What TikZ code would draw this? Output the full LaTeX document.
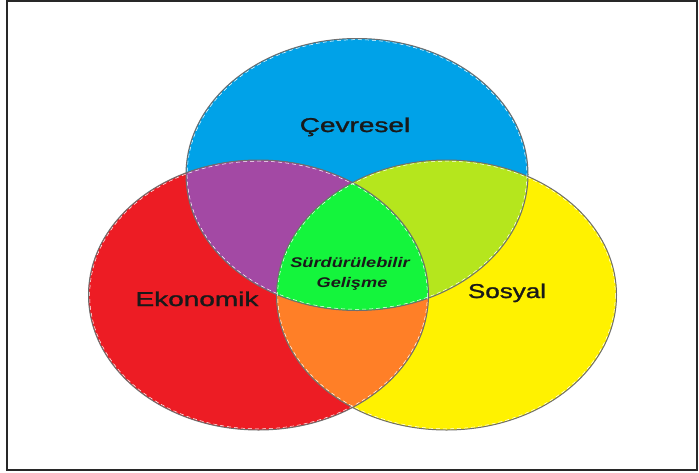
\documentclass[tikz,border=0pt]{standalone}
\usepackage{fontspec}
\setmainfont{Liberation Sans}
\newfontfamily\labelfont[FakeBold=1.2]{Liberation Sans}
\usepackage{graphicx}
\definecolor{cBlue}{RGB}{0,162,232}
\definecolor{cRed}{RGB}{237,28,36}
\definecolor{cYellow}{RGB}{255,242,0}
\definecolor{cPurple}{RGB}{163,73,164}
\definecolor{cLime}{RGB}{181,230,29}
\definecolor{cOrange}{RGB}{255,127,39}
\definecolor{cGreen}{RGB}{20,245,60}
\definecolor{cEdge}{RGB}{110,110,110}
\definecolor{cFrame}{RGB}{40,40,40}
\definecolor{cText}{RGB}{25,25,25}
\tikzset{
  edgeline/.style={draw=cEdge, line width=1pt},
  edgedash/.style={draw=white, line width=0.5pt, dash pattern=on 4pt off 3pt},
  biglabel/.style={inner sep=0pt, anchor=base, text=cText, font=\labelfont\fontsize{20}{24}\selectfont},
  smalllabel/.style={inner sep=0pt, anchor=base, text=cText, font=\fontsize{14}{17}\selectfont\bfseries\itshape},
}
\begin{document}
\begin{tikzpicture}[x=1pt,y=-1pt]
\useasboundingbox (0,0) rectangle (699,472);
\fill[white] (0,0) rectangle (699,472);
\draw[cFrame, line width=2pt] (6.5,1.2) rectangle (697,469.5);
\coordinate (B) at (357,174.5);
\coordinate (R) at (258.5,295);
\coordinate (Y) at (446.5,295);
% base fills
\fill[cBlue] (B) ellipse [x radius=171, y radius=136];
\fill[cRed] (R) ellipse [x radius=170, y radius=135];
\fill[cYellow] (Y) ellipse [x radius=170, y radius=135];
% pairwise intersections
\begin{scope}
  \clip (R) ellipse [x radius=170, y radius=135];
  \fill[cPurple] (B) ellipse [x radius=171, y radius=136];
\end{scope}
\begin{scope}
  \clip (Y) ellipse [x radius=170, y radius=135];
  \fill[cLime] (B) ellipse [x radius=171, y radius=136];
\end{scope}
\begin{scope}
  \clip (Y) ellipse [x radius=170, y radius=135];
  \fill[cOrange] (R) ellipse [x radius=170, y radius=135];
\end{scope}
\begin{scope}
  \clip (Y) ellipse [x radius=170, y radius=135];
  \clip (R) ellipse [x radius=170, y radius=135];
  \fill[cGreen] (B) ellipse [x radius=171, y radius=136];
\end{scope}
% outlines
\draw[edgeline] (B) ellipse [x radius=171, y radius=136];
\draw[edgeline] (R) ellipse [x radius=170, y radius=135];
\draw[edgeline] (Y) ellipse [x radius=170, y radius=135];
\draw[edgedash] (B) ellipse [x radius=169.8, y radius=134.8];
\draw[edgedash] (R) ellipse [x radius=168.8, y radius=133.8];
\draw[edgedash] (Y) ellipse [x radius=168.8, y radius=133.8];
% labels
\node[biglabel] (cev) at (355,132) {\scalebox{1.4}[1]{Çevresel}};
\node[biglabel] (eko) at (197,306) {\scalebox{1.4}[1]{Ekonomik}};
\node[biglabel] (sos) at (507,298) {\scalebox{1.3}[1]{Sosyal}};
\node[smalllabel] (sur) at (350,267) {\scalebox{1.3}[1]{Sürdürülebilir}};
\node[smalllabel] (gel) at (352,287) {\scalebox{1.3}[1]{Gelişme}};
\end{tikzpicture}
\end{document}
